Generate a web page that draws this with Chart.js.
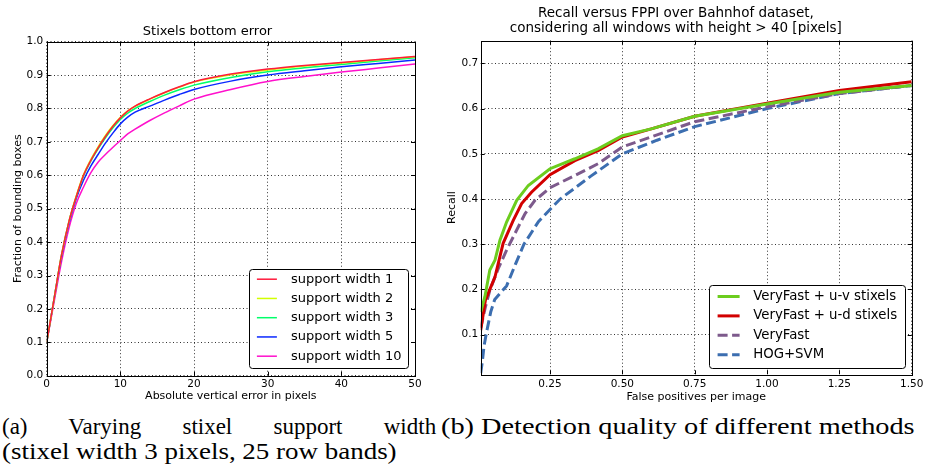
<!DOCTYPE html>
<html>
<head>
<meta charset="utf-8">
<script src="https://cdn.jsdelivr.net/npm/chart.js@4.4.0/dist/chart.umd.min.js"></script>
<style>
    html, body { margin: 0; padding: 0; background: #fff; }
    body { width: 930px; height: 468px; position: relative; overflow: hidden; }
    .plot { position: absolute; top: 0; height: 405px; }
    .plot--a { left: 0; width: 430px; }
    .plot--b { left: 440px; width: 490px; }
    .caption { position: absolute; font-family: "Liberation Serif", "Times New Roman", Times, serif; font-weight: normal; font-size: 23px; line-height: 25px; color: #000; white-space: nowrap; transform-origin: 0 0; }
    .caption--a1 { left: 2px; top: 414px; }
    .caption--a2 { left: 2px; top: 439px; }
    .caption--b { left: 441px; top: 414px; }
</style>
</head>
<body>
<div class="plot plot--a"><canvas id="diagA"></canvas></div>
<div class="plot plot--b"><canvas id="diagB"></canvas></div>

<div class="caption caption--a1" data-w="434" data-justify="1">(a) Varying stixel support width</div>
<div class="caption caption--a2" data-w="395">(stixel width 3 pixels, 25 row bands)</div>
<div class="caption caption--b" data-w="474">(b) Detection quality of different methods</div>

<script>
// (a) stixel bottom error
const errPixels = [0, 1, 2, 3, 4, 5, 6, 7, 8, 9, 10, 11, 12, 14, 16, 18, 20, 25, 30, 35, 40, 45, 50];
const support1 = [0.10, 0.23, 0.36, 0.46, 0.535, 0.60, 0.645, 0.683, 0.717, 0.747, 0.772, 0.792, 0.807, 0.829, 0.848, 0.865, 0.880, 0.903, 0.918, 0.929, 0.938, 0.947, 0.956];
const support2 = [0.10, 0.23, 0.36, 0.46, 0.537, 0.602, 0.648, 0.686, 0.720, 0.749, 0.774, 0.793, 0.807, 0.828, 0.847, 0.864, 0.879, 0.901, 0.915, 0.927, 0.936, 0.946, 0.955];
const support3 = [0.10, 0.23, 0.36, 0.46, 0.535, 0.598, 0.643, 0.680, 0.713, 0.742, 0.767, 0.786, 0.800, 0.821, 0.840, 0.856, 0.870, 0.893, 0.910, 0.922, 0.932, 0.942, 0.952];
const support5 = [0.10, 0.23, 0.355, 0.455, 0.53, 0.585, 0.628, 0.663, 0.697, 0.727, 0.754, 0.774, 0.789, 0.807, 0.825, 0.842, 0.857, 0.882, 0.900, 0.913, 0.925, 0.935, 0.945];
const support10 = [0.10, 0.22, 0.34, 0.44, 0.515, 0.565, 0.608, 0.64, 0.663, 0.684, 0.704, 0.724, 0.738, 0.764, 0.787, 0.808, 0.828, 0.857, 0.881, 0.896, 0.909, 0.921, 0.933];
const supportLabels = ["support width 1", "support width 2", "support width 3", "support width 5", "support width 10"];
const errTicks = [0, 10, 20, 30, 40, 50];
const fractionTicks = [0, 0.1, 0.2, 0.3, 0.4, 0.5, 0.6, 0.7, 0.8, 0.9, 1.0];

// (b) recall vs fppi
const uvFppi = [0.0105, 0.025, 0.042, 0.06, 0.077, 0.1, 0.135, 0.175, 0.25, 0.336, 0.416, 0.5, 0.6, 0.75, 1.0, 1.25, 1.5];
const uvRecall = [0.15, 0.184, 0.243, 0.265, 0.309, 0.349, 0.397, 0.43, 0.467, 0.489, 0.511, 0.54, 0.555, 0.583, 0.61, 0.636, 0.651];
const udFppi = [0.0105, 0.027, 0.06, 0.088, 0.123, 0.152, 0.186, 0.25, 0.336, 0.416, 0.5, 0.6, 0.75, 1.0, 1.25, 1.5];
const udRecall = [0.11, 0.177, 0.228, 0.302, 0.353, 0.39, 0.415, 0.454, 0.485, 0.507, 0.537, 0.555, 0.583, 0.612, 0.64, 0.659];
const vfFppi = [0.0105, 0.027, 0.042, 0.071, 0.1, 0.129, 0.164, 0.198, 0.25, 0.336, 0.416, 0.5, 0.75, 1.0, 1.25, 1.5];
const vfRecall = [0.115, 0.162, 0.198, 0.246, 0.287, 0.324, 0.368, 0.397, 0.425, 0.452, 0.478, 0.515, 0.571, 0.604, 0.633, 0.651];
const hogFppi = [0.0105, 0.016, 0.022, 0.03, 0.045, 0.059, 0.1, 0.13, 0.16, 0.21, 0.285, 0.39, 0.5, 0.62, 0.75, 1.0, 1.25, 1.5];
const hogRecall = [0.015, 0.04, 0.075, 0.103, 0.15, 0.178, 0.208, 0.255, 0.30, 0.35, 0.40, 0.45, 0.50, 0.53, 0.56, 0.60, 0.633, 0.651];
const methodLabels = ["VeryFast + u-v stixels", "VeryFast + u-d stixels", "VeryFast", "HOG+SVM"];
const fppiTicks = [0.25, 0.5, 0.75, 1.0, 1.25, 1.5];
const recallTicks = [0.1, 0.2, 0.3, 0.4, 0.5, 0.6, 0.7];

const FONT = "'DejaVu Sans', sans-serif";

function pts(xs, ys) {
    return xs.map((x, i) => ({ x: x, y: ys[i] }));
}

/* рамка и внутренние засечки как в matplotlib */
const framePlugin = {
    id: "frame",
    afterDatasetsDraw(chart) {
        const { ctx, chartArea: a, scales } = chart;
        ctx.save();
        ctx.strokeStyle = "#000";
        ctx.lineWidth = 1;
        ctx.beginPath();
        scales.x.ticks.forEach(t => {
            const px = Math.round(scales.x.getPixelForValue(t.value)) + 0.5;
            ctx.moveTo(px, a.bottom); ctx.lineTo(px, a.bottom - 4);
            ctx.moveTo(px, a.top); ctx.lineTo(px, a.top + 4);
        });
        scales.y.ticks.forEach(t => {
            const py = Math.round(scales.y.getPixelForValue(t.value)) + 0.5;
            ctx.moveTo(a.left, py); ctx.lineTo(a.left + 4, py);
            ctx.moveTo(a.right, py); ctx.lineTo(a.right - 4, py);
        });
        ctx.stroke();
        ctx.strokeRect(Math.round(a.left) + 0.5, Math.round(a.top) + 0.5, Math.round(a.right - a.left), Math.round(a.bottom - a.top));
        ctx.restore();
    }
};

/* легенда внутри области графика */
const boxLegendPlugin = {
    id: "boxLegend",
    afterDraw(chart, args, o) {
        const { ctx, chartArea: a } = chart;
        const x0 = a.right - o.inset - o.width;
        const y0 = a.bottom - o.inset - o.height;
        ctx.save();
        ctx.fillStyle = "#fff";
        ctx.strokeStyle = "#000";
        ctx.lineWidth = 1;
        ctx.beginPath();
        ctx.roundRect(Math.round(x0) + 0.5, Math.round(y0) + 0.5, o.width, o.height, 3);
        ctx.fill();
        ctx.stroke();
        ctx.font = o.fontSize + "px " + FONT;
        ctx.textBaseline = "middle";
        ctx.fillStyle = "#000";
        chart.data.datasets.forEach((ds, i) => {
            const y = y0 + o.firstRow + i * o.rowGap;
            ctx.strokeStyle = ds.borderColor;
            ctx.lineWidth = ds.borderWidth;
            ctx.setLineDash(ds.borderDash || []);
            ctx.beginPath();
            ctx.moveTo(x0 + o.sampleX, y);
            ctx.lineTo(x0 + o.sampleX + o.sampleW, y);
            ctx.stroke();
            ctx.setLineDash([]);
            ctx.fillText(ds.label, x0 + o.textX, y);
        });
        ctx.restore();
    }
};

function axis(min, max, tickList, fmt, title, size, pad, titlePad) {
    return {
        type: "linear",
        min: min,
        max: max,
        afterBuildTicks: s => { s.ticks = tickList.map(v => ({ value: v })); },
        afterFit: s => {
            if (s.isHorizontal()) s.height = size; else s.width = size;
        },
        grid: { color: "rgba(0,0,0,0.8)", lineWidth: 1, drawTicks: false },
        border: { display: false, dash: [1, 2.5] },
        ticks: {
            color: "#000",
            padding: pad,
            autoSkip: false,
            maxRotation: 0,
            font: { family: FONT, size: 10.5 },
            callback: fmt
        },
        title: {
            display: true,
            text: title,
            color: "#000",
            font: { family: FONT, size: 11, lineHeight: 1.2 },
            padding: titlePad
        }
    };
}

document.addEventListener("DOMContentLoaded", () => {
    const chartA = document.getElementById("diagA");
    const chartB = document.getElementById("diagB");

    if (chartA) {
        const series = [support1, support2, support3, support5, support10];
        const colors = ["#ff1a3c", "#d2ff00", "#00ff6a", "#0a28ff", "#ff10cc"];
        new Chart(chartA, {
            type: "line",
            plugins: [framePlugin, boxLegendPlugin],
            data: {
                datasets: series.map((s, i) => ({
                    label: supportLabels[i],
                    data: pts(errPixels, s),
                    borderColor: colors[i],
                    borderWidth: 1.5,
                    pointRadius: 0,
                    cubicInterpolationMode: "monotone",
                    fill: false
                }))
            },
            options: {
                responsive: true,
                maintainAspectRatio: false,
                animation: false,
                layout: { padding: { left: 0, right: 15, top: 0, bottom: 0 } },
                plugins: {
                    legend: { display: false },
                    tooltip: { enabled: false },
                    title: {
                        display: true,
                        text: "Stixels bottom error",
                        color: "#000",
                        font: { family: FONT, size: 13, weight: "normal", lineHeight: 1.2 },
                        padding: { top: 24.2, bottom: 1.9 }
                    },
                    boxLegend: { width: 159, height: 99, inset: 7.5, firstRow: 10, rowGap: 19.25, sampleX: 8.4, sampleW: 20, textX: 42.4, fontSize: 13 }
                },
                scales: {
                    x: axis(0, 50, errTicks, v => v, "Absolute vertical error in pixels", 29.3, 2.5, { top: 0, bottom: 2 }),
                    y: axis(0, 1, fractionTicks, v => v.toFixed(1), "Fraction of bounding boxes", 46.7, 3.4, { top: 11.4, bottom: 0 })
                }
            }
        });
    }

    if (chartB) {
        const xs = [uvFppi, udFppi, vfFppi, hogFppi];
        const ys = [uvRecall, udRecall, vfRecall, hogRecall];
        const colors = ["#6ccd1e", "#d20000", "#7d5a8c", "#3c6eb0"];
        const dashes = [[], [], [10, 4.5], [10, 4.5]];
        new Chart(chartB, {
            type: "line",
            plugins: [framePlugin, boxLegendPlugin],
            data: {
                datasets: xs.map((x, i) => ({
                    label: methodLabels[i],
                    data: pts(x, ys[i]),
                    borderColor: colors[i],
                    borderWidth: 3,
                    borderDash: dashes[i],
                    borderCapStyle: "butt",
                    pointRadius: 0,
                    tension: 0,
                    fill: false
                }))
            },
            options: {
                responsive: true,
                maintainAspectRatio: false,
                animation: false,
                layout: { padding: { left: 0, right: 18.3, top: 0, bottom: 0 } },
                plugins: {
                    legend: { display: false },
                    tooltip: { enabled: false },
                    title: {
                        display: true,
                        text: ["Recall versus FPPI over Bahnhof dataset,", "considering all windows with height > 40 [pixels]"],
                        color: "#000",
                        font: { family: FONT, size: 13.5, weight: "normal", lineHeight: 15 / 13.5 },
                        padding: { top: 5.8, bottom: 4.9 }
                    },
                    boxLegend: { width: 196, height: 83, inset: 6.5, firstRow: 11.7, rowGap: 19.4, sampleX: 8.4, sampleW: 22, textX: 44, fontSize: 13.3 }
                },
                scales: {
                    x: axis(0.0105, 1.5, fppiTicks, v => v.toFixed(2), "False positives per image", 30.7, 3.5, { top: 0, bottom: 1.1 }),
                    y: axis(0.0125, 0.75, recallTicks, v => v.toFixed(1), "Recall", 40.7, 2.4, { top: 5.4, bottom: 0 })
                }
            }
        });
    }

    /* подгонка подписей по ширине */
    document.querySelectorAll(".caption[data-w]").forEach(el => {
        const target = Number(el.dataset.w);
        const w = el.scrollWidth;
        if (el.dataset.justify && w < target) {
            const gaps = el.textContent.split(" ").length - 1;
            el.style.wordSpacing = ((target - w) / gaps) + "px";
        } else {
            el.style.transform = "scaleX(" + (target / w) + ")";
        }
    });
});
</script>
</body>
</html>
